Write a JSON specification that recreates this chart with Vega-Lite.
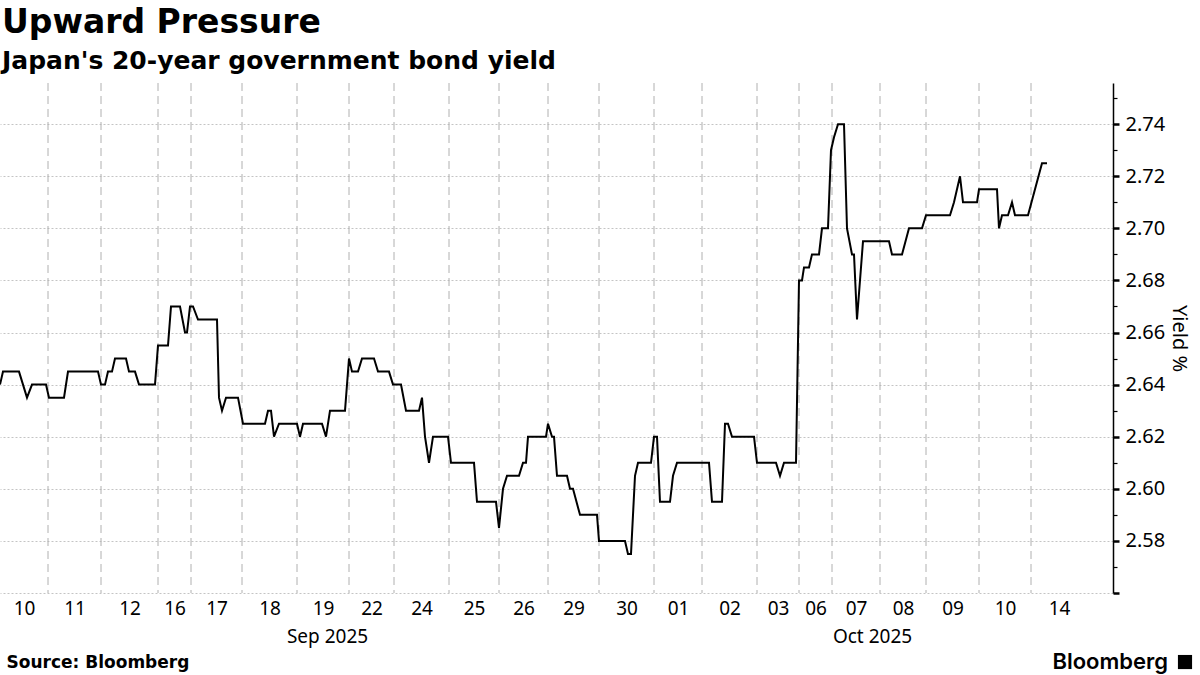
{
  "$schema": "https://vega.github.io/schema/vega-lite/v6.json",
  "width": 1113,
  "height": 510,
  "padding": {"top": 6, "left": 0, "right": 0, "bottom": 0},
  "background": "white",
  "config": {"view": {"stroke": null}, "font": "Noto Sans"},
  "title": {
    "text": "Upward Pressure",
    "subtitle": "Japan's 20-year government bond yield",
    "anchor": "start",
    "dx": 2,
    "font": "DejaVu Sans",
    "fontSize": 33,
    "fontWeight": "bold",
    "color": "black",
    "subtitleFont": "DejaVu Sans",
    "subtitleFontSize": 25,
    "subtitleFontWeight": "bold",
    "subtitleColor": "black",
    "subtitlePadding": 9,
    "offset": 9
  },
  "datasets": {
    "yield": [
      {"i": 0, "v": 2.64}, {"i": 0.6, "v": 2.645}, {"i": 3.8, "v": 2.645}, {"i": 5.4, "v": 2.635},
      {"i": 6.4, "v": 2.64}, {"i": 9.2, "v": 2.64}, {"i": 9.8, "v": 2.635}, {"i": 12.8, "v": 2.635},
      {"i": 13.6, "v": 2.645}, {"i": 19.6, "v": 2.645}, {"i": 20.2, "v": 2.64}, {"i": 21, "v": 2.64},
      {"i": 21.6, "v": 2.645}, {"i": 22.4, "v": 2.645}, {"i": 23, "v": 2.65}, {"i": 25.2, "v": 2.65},
      {"i": 25.8, "v": 2.645}, {"i": 27, "v": 2.645}, {"i": 27.8, "v": 2.64}, {"i": 31, "v": 2.64},
      {"i": 31.6, "v": 2.655}, {"i": 33.6, "v": 2.655}, {"i": 34.2, "v": 2.67}, {"i": 36, "v": 2.67},
      {"i": 37, "v": 2.66}, {"i": 37.4, "v": 2.66}, {"i": 38, "v": 2.67}, {"i": 38.6, "v": 2.67},
      {"i": 39.6, "v": 2.665}, {"i": 43.4, "v": 2.665}, {"i": 43.8, "v": 2.635}, {"i": 44.4, "v": 2.63},
      {"i": 45.2, "v": 2.635}, {"i": 47.6, "v": 2.635}, {"i": 48.6, "v": 2.625}, {"i": 53, "v": 2.625},
      {"i": 53.6, "v": 2.63}, {"i": 54.2, "v": 2.63}, {"i": 54.8, "v": 2.62}, {"i": 55.8, "v": 2.625},
      {"i": 59.4, "v": 2.625}, {"i": 60, "v": 2.62}, {"i": 60.6, "v": 2.625}, {"i": 64.4, "v": 2.625},
      {"i": 65.2, "v": 2.62}, {"i": 66, "v": 2.63}, {"i": 69, "v": 2.63}, {"i": 69.8, "v": 2.65},
      {"i": 70.4, "v": 2.645}, {"i": 71.6, "v": 2.645}, {"i": 72.4, "v": 2.65}, {"i": 74.8, "v": 2.65},
      {"i": 75.6, "v": 2.645}, {"i": 77.8, "v": 2.645}, {"i": 78.6, "v": 2.64}, {"i": 80.2, "v": 2.64},
      {"i": 81.2, "v": 2.63}, {"i": 83.8, "v": 2.63}, {"i": 84.4, "v": 2.635}, {"i": 85, "v": 2.62},
      {"i": 85.8, "v": 2.61}, {"i": 86.6, "v": 2.62}, {"i": 89.6, "v": 2.62}, {"i": 90.2, "v": 2.61},
      {"i": 94.8, "v": 2.61}, {"i": 95.4, "v": 2.595}, {"i": 99.2, "v": 2.595}, {"i": 99.8, "v": 2.585},
      {"i": 100.6, "v": 2.6}, {"i": 101.4, "v": 2.605}, {"i": 103.8, "v": 2.605}, {"i": 104.6, "v": 2.61},
      {"i": 105.2, "v": 2.61}, {"i": 105.6, "v": 2.62}, {"i": 109.2, "v": 2.62}, {"i": 109.6, "v": 2.625},
      {"i": 110.4, "v": 2.62}, {"i": 110.8, "v": 2.62}, {"i": 111.4, "v": 2.605}, {"i": 113.4, "v": 2.605},
      {"i": 114, "v": 2.6}, {"i": 114.6, "v": 2.6}, {"i": 116, "v": 2.59}, {"i": 119.4, "v": 2.59},
      {"i": 119.8, "v": 2.58}, {"i": 125, "v": 2.58}, {"i": 125.6, "v": 2.575}, {"i": 126.2, "v": 2.575},
      {"i": 127, "v": 2.605}, {"i": 127.6, "v": 2.61}, {"i": 130.2, "v": 2.61}, {"i": 130.8, "v": 2.62},
      {"i": 131.4, "v": 2.62}, {"i": 132, "v": 2.595}, {"i": 134, "v": 2.595}, {"i": 134.6, "v": 2.605},
      {"i": 135.4, "v": 2.61}, {"i": 141.8, "v": 2.61}, {"i": 142.4, "v": 2.595}, {"i": 144.4, "v": 2.595},
      {"i": 145, "v": 2.625}, {"i": 145.6, "v": 2.625}, {"i": 146.4, "v": 2.62}, {"i": 150.8, "v": 2.62},
      {"i": 151.4, "v": 2.61}, {"i": 155.2, "v": 2.61}, {"i": 156, "v": 2.605}, {"i": 156.8, "v": 2.61},
      {"i": 159.2, "v": 2.61}, {"i": 159.8, "v": 2.68}, {"i": 160.4, "v": 2.68}, {"i": 160.8, "v": 2.685},
      {"i": 161.8, "v": 2.685}, {"i": 162.4, "v": 2.69}, {"i": 163.8, "v": 2.69}, {"i": 164.4, "v": 2.7},
      {"i": 165.6, "v": 2.7}, {"i": 166.2, "v": 2.73}, {"i": 166.8, "v": 2.735}, {"i": 167.6, "v": 2.74},
      {"i": 168.8, "v": 2.74}, {"i": 169.4, "v": 2.7}, {"i": 170.4, "v": 2.69}, {"i": 170.8, "v": 2.69},
      {"i": 171.4, "v": 2.665}, {"i": 172.6, "v": 2.695}, {"i": 177.8, "v": 2.695}, {"i": 178.4, "v": 2.69},
      {"i": 180.4, "v": 2.69}, {"i": 181.8, "v": 2.7}, {"i": 184.4, "v": 2.7}, {"i": 185.2, "v": 2.705},
      {"i": 190, "v": 2.705}, {"i": 190.8, "v": 2.71}, {"i": 192, "v": 2.72}, {"i": 192.6, "v": 2.71},
      {"i": 195.4, "v": 2.71}, {"i": 195.8, "v": 2.715}, {"i": 199.4, "v": 2.715}, {"i": 199.8, "v": 2.7},
      {"i": 200.4, "v": 2.705}, {"i": 201.6, "v": 2.705}, {"i": 202.4, "v": 2.71}, {"i": 203, "v": 2.705},
      {"i": 205.6, "v": 2.705}, {"i": 208.4, "v": 2.725}, {"i": 209.4, "v": 2.725}
    ],
    "bounds": [
      {"b": 9.6}, {"b": 20.2}, {"b": 31.6}, {"b": 38.2}, {"b": 48.4}, {"b": 59.4}, {"b": 69.8},
      {"b": 78.8}, {"b": 89.8}, {"b": 99.8}, {"b": 109.6}, {"b": 119.8}, {"b": 130.8}, {"b": 140.4},
      {"b": 151.4}, {"b": 159.8}, {"b": 166.4}, {"b": 176}, {"b": 185.2}, {"b": 195.8}, {"b": 206.2}
    ],
    "brand": [{"label": "Bloomberg"}]
  },
  "resolve": {"axis": {"x": "independent", "y": "independent"}},
  "layer": [
    {
      "data": {"name": "bounds"},
      "mark": {"type": "rule", "color": "#b0b0b0", "strokeWidth": 1, "strokeDash": [8, 5]},
      "encoding": {
        "x": {
          "field": "b",
          "type": "quantitative",
          "scale": {"domain": [0, 222.6], "nice": false, "zero": false},
          "axis": {
            "orient": "bottom",
            "values": [65.4, 174.4],
            "labelExpr": "datum.value < 100 ? 'Sep 2025' : 'Oct 2025'",
            "ticks": false,
            "domain": false,
            "grid": false,
            "labelFont": "Noto Sans",
            "labelFontSize": 19,
            "labelColor": "black",
            "labelPadding": 34,
            "title": "Source: Bloomberg",
            "titleFont": "DejaVu Sans",
            "titleFontSize": 17,
            "titleFontWeight": "bold",
            "titleColor": "black",
            "titleAnchor": "start",
            "titleAlign": "left",
            "titleX": 6,
            "titlePadding": 8,
            "offset": 0
          }
        }
      }
    },
    {
      "data": {"name": "yield"},
      "mark": {"type": "line", "color": "black", "strokeWidth": 2, "clip": true},
      "encoding": {
        "x": {
          "field": "i",
          "type": "quantitative",
          "scale": {"domain": [0, 222.6], "nice": false, "zero": false},
          "axis": {
            "orient": "bottom",
            "values": [4.8, 14.9, 25.9, 34.9, 43.3, 53.9, 64.6, 74.3, 84.3, 94.8, 104.7, 114.7, 125.3, 135.6, 145.9, 155.6, 163.1, 171.2, 180.6, 190.5, 201, 211.8],
            "labelExpr": "['10','11','12','16','17','18','19','22','24','25','26','29','30','01','02','03','06','07','08','09','10','14'][indexof([4.8, 14.9, 25.9, 34.9, 43.3, 53.9, 64.6, 74.3, 84.3, 94.8, 104.7, 114.7, 125.3, 135.6, 145.9, 155.6, 163.1, 171.2, 180.6, 190.5, 201, 211.8], datum.value)]",
            "ticks": false,
            "domain": false,
            "grid": false,
            "labelFont": "Noto Sans",
            "labelFontSize": 19,
            "labelColor": "black",
            "labelPadding": 6,
            "labelOverlap": false,
            "labelFlush": false,
            "title": null,
            "offset": 0
          }
        },
        "y": {
          "field": "v",
          "type": "quantitative",
          "scale": {"domain": [2.56, 2.7558], "nice": false, "zero": false},
          "axis": {
            "orient": "right",
            "values": [2.56, 2.57, 2.58, 2.59, 2.6, 2.61, 2.62, 2.63, 2.64, 2.65, 2.66, 2.67, 2.68, 2.69, 2.7, 2.71, 2.72, 2.73, 2.74, 2.75],
            "labelExpr": "(round(datum.value*100) % 2 == 0 && datum.value > 2.565) ? format(datum.value, '.2f') : ''",
            "labelFont": "Noto Sans",
            "labelFontSize": 20,
            "labelColor": "black",
            "labelPadding": 6,
            "labelOverlap": false,
            "labelFlush": false,
            "domainColor": "black",
            "domainWidth": 1.5,
            "tickColor": "black",
            "tickSize": {"condition": {"test": "round(datum.value*100) % 2 == 0", "value": 6}, "value": 4},
            "tickWidth": {"condition": {"test": "round(datum.value*100) % 2 == 0", "value": 2.5}, "value": 1.2},
            "grid": true,
            "gridColor": "#c4c4c4",
            "gridDash": [2, 2],
            "gridWidth": 1,
            "gridOpacity": {"condition": {"test": "round(datum.value*100) % 2 == 0", "value": 1}, "value": 0},
            "title": "Yield %",
            "titleFont": "Noto Sans",
            "titleFontSize": 20,
            "titleFontWeight": "normal",
            "titleColor": "black",
            "titleAngle": 90,
            "titlePadding": 4
          }
        }
      }
    },
    {
      "data": {"name": "brand"},
      "mark": {"type": "text", "align": "right", "baseline": "middle", "font": "Inter", "fontSize": 22, "fontWeight": 600, "color": "black"},
      "encoding": {
        "x": {"datum": 233.6, "type": "quantitative", "scale": {"domain": [0, 222.6], "nice": false, "zero": false}, "axis": null},
        "y": {"datum": 2.5335, "type": "quantitative", "scale": {"domain": [2.56, 2.7558], "nice": false, "zero": false}, "axis": null},
        "text": {"field": "label"}
      }
    },
    {
      "data": {"name": "brand"},
      "mark": {"type": "point", "shape": "square", "filled": true, "color": "black", "size": 200, "opacity": 1},
      "encoding": {
        "x": {"datum": 237, "type": "quantitative", "scale": {"domain": [0, 222.6], "nice": false, "zero": false}, "axis": null},
        "y": {"datum": 2.5335, "type": "quantitative", "scale": {"domain": [2.56, 2.7558], "nice": false, "zero": false}, "axis": null}
      }
    }
  ]
}
